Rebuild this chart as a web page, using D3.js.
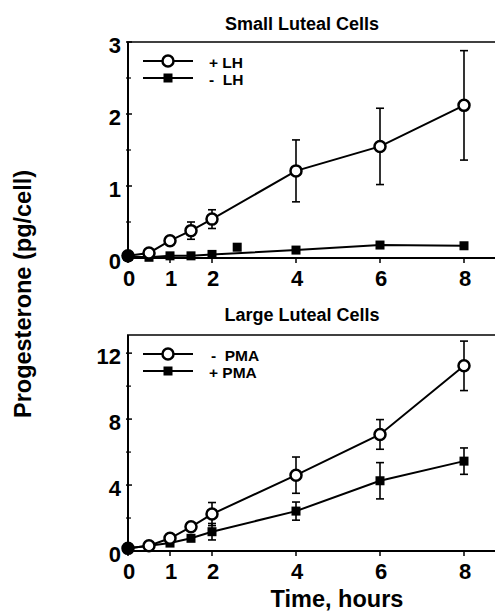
<!DOCTYPE html>
<html>
<head>
<meta charset="utf-8">
<script src="https://cdn.jsdelivr.net/npm/d3@7"></script>
<style>
  html, body { margin: 0; padding: 0; background: #fff; }
  svg { display: block; }
  text { font-family: "Liberation Sans", Arial, Helvetica, sans-serif; font-weight: bold; fill: #000; }
</style>
</head>
<body>
<div id="chart"></div>
<script>
// ---------- data ----------
const timeHours = [0, 0.5, 1, 1.5, 2, 4, 6, 8];
const xTickValues = [0, 1, 2, 4, 6, 8];

// Small luteal cells
const plusLH      = [0.03, 0.07, 0.24, 0.38, 0.54, 1.21, 1.55, 2.12];
const plusLHErr   = [0, 0, 0, 0.12, 0.13, 0.43, 0.53, 0.76];
const minusLH     = [0.02, 0.01, 0.03, 0.03, 0.05, 0.11, 0.18, 0.17];
const minusLHExtraT = [2.6];
const minusLHExtraV = [0.15];
const smallYTicks = [0, 1, 2, 3];
const smallYMinor = [0.5, 1.5, 2.5];

// Large luteal cells
const minusPMA    = [0.16, 0.32, 0.77, 1.47, 2.24, 4.6, 7.07, 11.23];
const minusPMAErr = [0, 0, 0, 0, 0.7, 1.1, 0.9, 1.5];
const plusPMA     = [0.16, 0.32, 0.48, 0.77, 1.17, 2.42, 4.26, 5.45];
const plusPMAErr  = [0, 0, 0, 0, 0.5, 0.55, 1.1, 0.8];
const largeYTicks = [0, 4, 8, 12];
const largeYMinor = [2, 6, 10];

const panelTitles = ["Small Luteal Cells", "Large Luteal Cells"];
const legendSmall = ["+ LH", "-  LH"];
const legendLarge = ["-  PMA", "+ PMA"];
const yAxisTitle = "Progesterone (pg/cell)";
const xAxisTitle = "Time, hours";

// ---------- layout ----------
const W = 495, H = 612;
const svg = d3.select("#chart").append("svg").attr("width", W).attr("height", H);

const x = d3.scaleLinear().domain([0, 8.8]).range([128, 128 + 42 * 8.8]);

const panels = [
  {
    title: panelTitles[0], titleY: 24,
    y: d3.scaleLinear().domain([0, 3]).range([258, 42]),
    ticks: smallYTicks, minor: smallYMinor,
    open: { v: plusLH, e: plusLHErr }, filled: { v: minusLH, e: null },
    extra: { t: minusLHExtraT, v: minusLHExtraV },
    legend: legendSmall, legendY: [61, 78], legendX: [209, 209]
  },
  {
    title: panelTitles[1], titleY: 315,
    y: d3.scaleLinear().domain([0, 13.1]).range([551, 335]),
    ticks: largeYTicks, minor: largeYMinor,
    open: { v: minusPMA, e: minusPMAErr }, filled: { v: plusPMA, e: plusPMAErr },
    extra: null,
    legend: legendLarge, legendY: [354, 371], legendX: [211, 209]
  }
];

function drawPanel(p) {
  const g = svg.append("g");
  const y = p.y;
  const [y0, y1] = y.range();
  const xEnd = W + 5;

  // frame: y axis, x axis, top line
  g.append("line").attr("x1", x(0)).attr("x2", x(0)).attr("y1", y1).attr("y2", y0)
    .attr("stroke", "#000").attr("stroke-width", 2);
  g.append("line").attr("x1", x(0) - 1).attr("x2", xEnd).attr("y1", y0).attr("y2", y0)
    .attr("stroke", "#000").attr("stroke-width", 2);
  g.append("line").attr("x1", x(0) - 1).attr("x2", xEnd).attr("y1", y1).attr("y2", y1)
    .attr("stroke", "#000").attr("stroke-width", 1.6);

  // y ticks
  p.ticks.forEach(t => {
    g.append("line").attr("x1", x(0) - 2).attr("x2", x(0) + 4).attr("y1", y(t)).attr("y2", y(t))
      .attr("stroke", "#000").attr("stroke-width", 1.5);
    g.append("text").attr("x", 121).attr("y", y(t) + 3)
      .attr("text-anchor", "end").attr("dominant-baseline", "central")
      .style("font-size", "22px").text(t);
  });
  p.minor.forEach(t => {
    g.append("line").attr("x1", x(0) - 2).attr("x2", x(0) + 3).attr("y1", y(t)).attr("y2", y(t))
      .attr("stroke", "#000").attr("stroke-width", 1.2);
  });

  // x ticks
  xTickValues.forEach(t => {
    g.append("line").attr("x1", x(t)).attr("x2", x(t)).attr("y1", y0).attr("y2", y0 + 5)
      .attr("stroke", "#000").attr("stroke-width", 1.5);
    g.append("text").attr("x", x(t) + 1).attr("y", y0 + 20)
      .attr("text-anchor", "middle").attr("dominant-baseline", "central")
      .style("font-size", "22px").text(t);
  });

  // title
  g.append("text").attr("x", 302).attr("y", p.titleY).attr("text-anchor", "middle")
    .attr("dominant-baseline", "central").style("font-size", "18px").text(p.title);

  const line = d3.line().x((d, i) => x(timeHours[i])).y(d => y(d));

  function series(s) {
    g.append("path").datum(s.v).attr("d", line).attr("fill", "none")
      .attr("stroke", "#000").attr("stroke-width", 2);
    if (s.e) {
      s.v.forEach((v, i) => {
        const e = s.e[i];
        if (!e) return;
        const cx = x(timeHours[i]);
        g.append("line").attr("x1", cx).attr("x2", cx).attr("y1", y(v + e)).attr("y2", y(v - e))
          .attr("stroke", "#000").attr("stroke-width", 1.6);
        [v + e, v - e].forEach(b => {
          g.append("line").attr("x1", cx - 4).attr("x2", cx + 4).attr("y1", y(b)).attr("y2", y(b))
            .attr("stroke", "#000").attr("stroke-width", 1.6);
        });
      });
    }
  }
  function marker(cx, cy, type) {
    if (type === "open") {
      g.append("circle").attr("cx", cx).attr("cy", cy).attr("r", 5.5)
        .attr("fill", "#fff").attr("stroke", "#000").attr("stroke-width", 2.5);
    } else {
      g.append("rect").attr("x", cx - 4.5).attr("y", cy - 4.5).attr("width", 9).attr("height", 9)
        .attr("fill", "#000");
    }
  }

  series(p.filled);
  series(p.open);
  p.filled.v.forEach((v, i) => marker(x(timeHours[i]), y(v), "filled"));
  if (p.extra) p.extra.t.forEach((t, i) => marker(x(t), y(p.extra.v[i]), "filled"));
  p.open.v.forEach((v, i) => marker(x(timeHours[i]), y(v), "open"));
  // origin overlap dot
  g.append("circle").attr("cx", x(0)).attr("cy", y(p.filled.v[0])).attr("r", 6).attr("fill", "#000");

  // legend
  ["open", "filled"].forEach((type, i) => {
    const ly = p.legendY[i];
    g.append("line").attr("x1", 143).attr("x2", 193).attr("y1", ly).attr("y2", ly)
      .attr("stroke", "#000").attr("stroke-width", 2);
    marker(168, ly, type);
    g.append("text").attr("x", p.legendX[i]).attr("y", ly + 1)
      .attr("dominant-baseline", "central").attr("xml:space", "preserve")
      .style("white-space", "pre").style("font-size", "15.5px").text(p.legend[i]);
  });
}

panels.forEach(drawPanel);

// axis titles
svg.append("text").attr("transform", "translate(31,294) rotate(-90)")
  .attr("text-anchor", "middle").style("font-size", "23.5px").text(yAxisTitle);
svg.append("text").attr("x", 337).attr("y", 607).attr("text-anchor", "middle")
  .style("font-size", "23.5px").text(xAxisTitle);
</script>
</body>
</html>
